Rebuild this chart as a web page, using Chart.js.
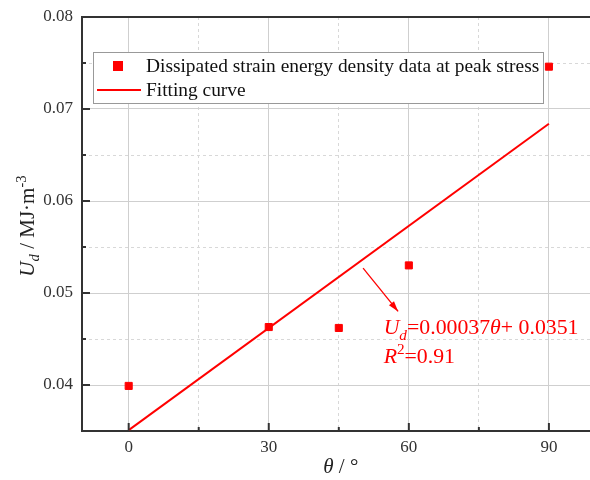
<!DOCTYPE html>
<html lang="en">
<head>
    <meta charset="UTF-8">
    <title>Dissipated strain energy density</title>
    <script src="https://cdn.jsdelivr.net/npm/chart.js"></script>
    <style>
        html, body { margin: 0; padding: 0; background: #fff; }
        #wrap { width: 590px; height: 480px; position: relative; }
    </style>
</head>
<body>
<div id="wrap"><canvas id="grafico"></canvas></div>
<script>
    // data
    const angles = [0, 30, 45, 60, 90];
    const energy = [0.0399, 0.0463, 0.0462, 0.0530, 0.0746];
    const fitAngles = [0, 90];
    const fitValues = [0.0351, 0.0684];
    const xTicks = [0, 15, 30, 45, 60, 75, 90];
    const yTicks = [0.04, 0.045, 0.05, 0.055, 0.06, 0.065, 0.07, 0.075, 0.08];

    const SERIF = '"Liberation Serif", "Times New Roman", serif';
    const RED = '#ff0000';

    // where the arrow and equation sit (data coordinates)
    const arrowFrom = [50.2, 0.0527];
    const arrowTo = [57.7, 0.0480];
    const eqPos = [54.6, 0.0455];
    const r2Pos = [54.6, 0.0424];

    function isMajorX(v) { return v % 30 === 0; }
    function isMajorY(v) { return Math.abs(v * 100 - Math.round(v * 100)) < 1e-6; }

    // draws a run of text pieces: [text, italic, shift] where shift = 'sub' / 'sup'
    function drawRich(ctx, parts, x, y, size, color) {
        ctx.fillStyle = color;
        ctx.textBaseline = 'alphabetic';
        ctx.textAlign = 'left';
        let cx = x;
        parts.forEach(p => {
            let s = size, dy = 0;
            if (p[2] === 'sub') { s = size * 0.7; dy = size * 0.25; }
            if (p[2] === 'sup') { s = size * 0.7; dy = -size * 0.4; }
            ctx.font = (p[1] ? 'italic ' : '') + s + 'px ' + SERIF;
            ctx.fillText(p[0], cx, y + dy);
            cx += ctx.measureText(p[0]).width;
        });
        return cx - x;
    }
    function richWidth(ctx, parts, size) {
        let w = 0;
        parts.forEach(p => {
            let s = (p[2] === 'sub' || p[2] === 'sup') ? size * 0.7 : size;
            ctx.font = (p[1] ? 'italic ' : '') + s + 'px ' + SERIF;
            w += ctx.measureText(p[0]).width;
        });
        return w;
    }

    const extras = {
        id: 'extras',
        afterDraw(chart) {
            const ctx = chart.ctx;
            const a = chart.chartArea;
            const xs = chart.scales.x, ys = chart.scales.y;
            ctx.save();

            // top frame line
            ctx.strokeStyle = '#333';
            ctx.lineWidth = 2;
            ctx.beginPath();
            ctx.moveTo(a.left, a.top);
            ctx.lineTo(chart.width, a.top);
            ctx.stroke();

            // inward ticks
            ctx.lineWidth = 2;
            xTicks.forEach(v => {
                const px = xs.getPixelForValue(v);
                const len = isMajorX(v) ? 8 : 4;
                ctx.beginPath();
                ctx.moveTo(px, a.bottom);
                ctx.lineTo(px, a.bottom - len);
                ctx.stroke();
            });
            yTicks.forEach(v => {
                const py = ys.getPixelForValue(v);
                const len = isMajorY(v) ? 8 : 4;
                ctx.beginPath();
                ctx.moveTo(a.left, py);
                ctx.lineTo(a.left + len, py);
                ctx.stroke();
            });

            // axis titles
            const xt = [['\u03b8', true], [' / \u00b0', false]];
            const xw = richWidth(ctx, xt, 21);
            drawRich(ctx, xt, (xs.getPixelForValue(30) + xs.getPixelForValue(60)) / 2 - xw / 2 + 2, 473, 21, '#222');

            const yt = [['U', true], ['d', true, 'sub'], [' / MJ\u00b7m', false], ['-3', false, 'sup']];
            const yw = richWidth(ctx, yt, 21);
            ctx.save();
            ctx.translate(34, 226);
            ctx.rotate(-Math.PI / 2);
            drawRich(ctx, yt, -yw / 2, 0, 21, '#222');
            ctx.restore();

            // legend box
            const lx = 93, ly = 52, lw = 450, lh = 51;
            ctx.fillStyle = '#fff';
            ctx.fillRect(lx, ly, lw, lh);
            ctx.strokeStyle = '#999';
            ctx.lineWidth = 1;
            ctx.strokeRect(lx + 0.5, ly + 0.5, lw, lh);
            ctx.fillStyle = RED;
            ctx.fillRect(113, 61, 10, 10);
            ctx.strokeStyle = RED;
            ctx.lineWidth = 2;
            ctx.beginPath();
            ctx.moveTo(97, 90);
            ctx.lineTo(141, 90);
            ctx.stroke();
            ctx.fillStyle = '#111';
            ctx.font = '19.4px ' + SERIF;
            ctx.textBaseline = 'middle';
            ctx.fillText('Dissipated strain energy density data at peak stress', 146, 67);
            ctx.fillText('Fitting curve', 146, 91);

            // arrow
            const x1 = xs.getPixelForValue(arrowFrom[0]), y1 = ys.getPixelForValue(arrowFrom[1]);
            const x2 = xs.getPixelForValue(arrowTo[0]), y2 = ys.getPixelForValue(arrowTo[1]);
            ctx.strokeStyle = RED;
            ctx.lineWidth = 1.3;
            ctx.beginPath();
            ctx.moveTo(x1, y1);
            ctx.lineTo(x2, y2);
            ctx.stroke();
            const ang = Math.atan2(y2 - y1, x2 - x1);
            ctx.fillStyle = RED;
            ctx.beginPath();
            ctx.moveTo(x2, y2);
            ctx.lineTo(x2 - 11 * Math.cos(ang - 0.3), y2 - 11 * Math.sin(ang - 0.3));
            ctx.lineTo(x2 - 11 * Math.cos(ang + 0.3), y2 - 11 * Math.sin(ang + 0.3));
            ctx.closePath();
            ctx.fill();

            // equation text
            drawRich(ctx, [['U', true], ['d', true, 'sub'], ['=0.00037', false], ['\u03b8', true], ['+ 0.0351', false]],
                xs.getPixelForValue(eqPos[0]), ys.getPixelForValue(eqPos[1]), 21.8, RED);
            drawRich(ctx, [['R', true], ['2', false, 'sup'], ['=0.91', false]],
                xs.getPixelForValue(r2Pos[0]), ys.getPixelForValue(r2Pos[1]), 21.8, RED);

            ctx.restore();
        }
    };

    const ctx = document.getElementById('grafico').getContext('2d');
    const myChart = new Chart(ctx, {
        data: {
            datasets: [{
                type: 'line',
                label: 'Fitting curve',
                data: fitAngles.map((a, i) => ({ x: a, y: fitValues[i] })),
                borderColor: RED,
                borderWidth: 2,
                pointRadius: 0,
                fill: false
            }, {
                type: 'scatter',
                label: 'Dissipated strain energy density data at peak stress',
                data: angles.map((a, i) => ({ x: a, y: energy[i] })),
                backgroundColor: RED,
                borderColor: RED,
                pointStyle: 'rect',
                pointRadius: 5,
                pointHoverRadius: 5
            }]
        },
        options: {
            responsive: true,
            maintainAspectRatio: false,
            animation: false,
            layout: { autoPadding: false, padding: { top: 17, left: 0, right: 0, bottom: 0 } },
            plugins: { legend: { display: false }, tooltip: { enabled: false } },
            scales: {
                x: {
                    type: 'linear',
                    min: -10,
                    max: 98.8,
                    afterBuildTicks: s => { s.ticks = xTicks.map(v => ({ value: v })); },
                    afterFit: s => { s.height = 49; s.paddingLeft = 0; s.paddingRight = 0; },
                    ticks: {
                        color: '#333',
                        font: { family: SERIF, size: 17 },
                        padding: 6,
                        maxRotation: 0,
                        autoSkip: false,
                        callback: v => isMajorX(v) ? String(v) : ''
                    },
                    grid: {
                        drawTicks: false,
                        color: c => isMajorX(c.tick.value) ? '#cfcfcf' : '#d8d8d8',
                        lineWidth: 1
                    },
                    border: {
                        color: '#333',
                        width: 2,
                        dash: c => (c.tick && !isMajorX(c.tick.value)) ? [3, 3] : []
                    }
                },
                y: {
                    type: 'linear',
                    min: 0.035,
                    max: 0.08,
                    afterBuildTicks: s => { s.ticks = yTicks.map(v => ({ value: v })); },
                    afterFit: s => { s.width = 82; s.paddingTop = 0; s.paddingBottom = 0; },
                    ticks: {
                        color: '#333',
                        font: { family: SERIF, size: 17 },
                        padding: 9,
                        autoSkip: false,
                        callback: v => isMajorY(v) ? v.toFixed(2) : ''
                    },
                    grid: {
                        drawTicks: false,
                        color: c => isMajorY(c.tick.value) ? '#cfcfcf' : '#d8d8d8',
                        lineWidth: 1
                    },
                    border: {
                        color: '#333',
                        width: 2,
                        dash: c => (c.tick && !isMajorY(c.tick.value)) ? [3, 3] : []
                    }
                }
            }
        },
        plugins: [extras]
    });
</script>
</body>
</html>
